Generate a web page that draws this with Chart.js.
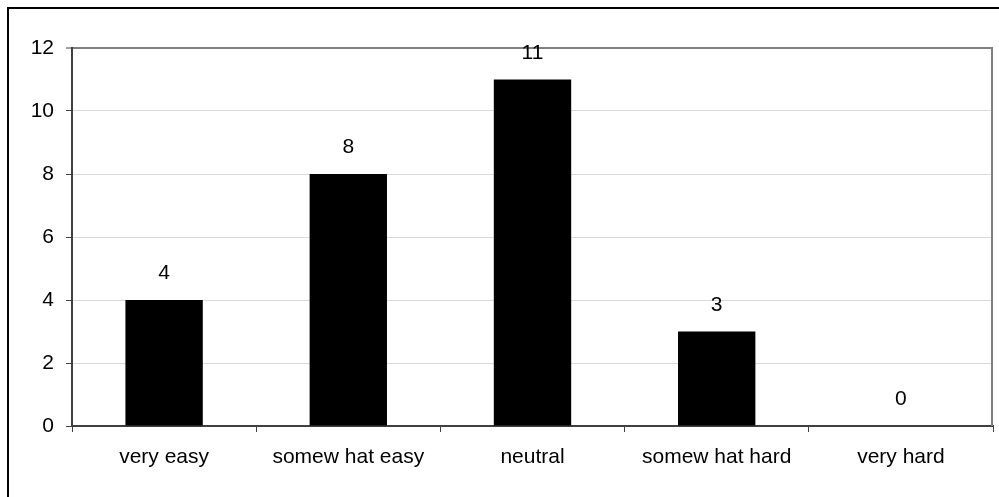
<!DOCTYPE html>
<html>
<head>
<meta charset="utf-8">
<script src="https://cdn.jsdelivr.net/npm/chart.js@4/dist/chart.umd.min.js"></script>
<style>
  html, body { margin: 0; padding: 0; background: #fff; overflow: hidden; }
  #wrap { position: relative; width: 999px; height: 497px; }
  #frame { position: absolute; left: 7px; top: 7px; width: 1100px; height: 600px;
           border: 2px solid #000; pointer-events: none; }
  canvas { position: absolute; left: 0; top: 0; }
</style>
</head>
<body>
<div id="wrap">
  <canvas id="c" width="999" height="497"></canvas>
  <div id="frame"></div>
</div>
<script>
// Survey answers: how easy was it?
const categories = ['very easy', 'somew hat easy', 'neutral', 'somew hat hard', 'very hard'];
const counts = [4, 8, 11, 3, 0];
const yTicks = [0, 2, 4, 6, 8, 10, 12];

const FONT = { family: "'Liberation Sans', Arial, sans-serif", size: 21 };
const AXIS_DARK = '#404040';

// Writes each bar's count above it, and outlines the right edge of the plot.
const barValues = {
  id: 'barValues',
  beforeDatasetsDraw(chart) {
    const { ctx, chartArea } = chart;
    ctx.save();
    ctx.strokeStyle = '#808080';
    ctx.lineWidth = 2;
    ctx.beginPath();
    ctx.moveTo(chartArea.right - 1, chartArea.top);
    ctx.lineTo(chartArea.right - 1, chartArea.bottom);
    ctx.stroke();
    ctx.restore();
  },
  afterDatasetsDraw(chart) {
    const { ctx } = chart;
    const meta = chart.getDatasetMeta(0);
    ctx.save();
    ctx.fillStyle = '#000';
    ctx.font = `${FONT.size}px ${FONT.family}`;
    ctx.textAlign = 'center';
    ctx.textBaseline = 'alphabetic';
    meta.data.forEach((bar, i) => {
      ctx.fillText(String(counts[i]), bar.x, bar.y - 21);
    });
    ctx.restore();
  }
};

new Chart(document.getElementById('c'), {
  type: 'bar',
  data: {
    labels: categories,
    datasets: [{
      data: counts,
      backgroundColor: '#000',
      borderWidth: 0,
      barPercentage: 0.42,
      categoryPercentage: 1.0
    }]
  },
  options: {
    responsive: false,
    animation: false,
    events: [],
    layout: { padding: { top: 48, right: 6, bottom: 0, left: 0 } },
    plugins: { legend: { display: false }, tooltip: { enabled: false } },
    scales: {
      x: {
        type: 'category',
        offset: true,
        grid: { offset: true, drawOnChartArea: false, tickLength: 6, tickColor: AXIS_DARK, tickWidth: 1 },
        border: { color: AXIS_DARK, width: 2 },
        ticks: { color: '#000', font: FONT, padding: 13, maxRotation: 0, autoSkip: false },
        afterFit(scale) { scale.height = 71; }
      },
      y: {
        min: 0,
        max: 12,
        afterBuildTicks(scale) { scale.ticks = yTicks.map(v => ({ value: v })); },
        grid: {
          color: c => (c.tick && c.tick.value === 12 ? '#808080' : '#d9d9d9'),
          lineWidth: c => (c.tick && c.tick.value === 12 ? 2 : 1),
          tickLength: 6,
          tickColor: AXIS_DARK,
          tickWidth: 1
        },
        border: { color: AXIS_DARK, width: 2 },
        ticks: { color: '#000', font: FONT, padding: 12 },
        afterFit(scale) { scale.width = 72; }
      }
    }
  },
  plugins: [barValues]
});
</script>
</body>
</html>
